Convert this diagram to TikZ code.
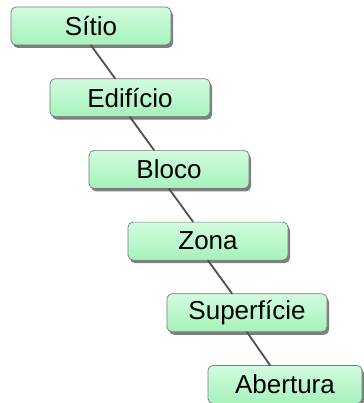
\documentclass[tikz,border=0pt]{standalone}
\usepackage{fontspec}
\setmainfont{Liberation Sans}
\usepackage{xcolor}
\usepackage{tikz}
\usetikzlibrary{positioning, shadows}
\definecolor{Level_Top}{RGB}{210,252,222}
\definecolor{Level_Bottom}{RGB}{166,242,188}
\definecolor{Level_Border}{RGB}{120,120,120}
\definecolor{Link_Gray}{RGB}{80,80,80}

\begin{document}
\begin{tikzpicture}[
    level/.style={rectangle, draw=Level_Border, line width=0.7pt,
                  top color=Level_Top, bottom color=Level_Bottom,
                  minimum width=160pt, minimum height=38pt, inner sep=0pt,
                  rounded corners=5pt, font=\fontsize{26}{29}\selectfont,
                  drop shadow={shadow xshift=2pt, shadow yshift=-3pt,
                               fill=black, opacity=0.5}},
    link/.style={line width=1.8pt, Link_Gray, line cap=round}
]
\useasboundingbox (0pt,0pt) rectangle (363pt,-403pt);

\node[level] (sitio) at (91pt,-26pt) {Sítio};

\node[level, below=33pt of sitio, xshift=39pt] (edificio) {Edifício};

\node[level, below=33pt of edificio, xshift=39pt] (bloco) {Bloco};

\node[level, below=33pt of bloco, xshift=39pt] (zona) {Zona};

\node[level, below=33pt of zona, xshift=39pt] (superficie) {Superfície};

\node[level, below=33pt of superficie, xshift=38pt, minimum width=154pt] (abertura) {Abertura};

\draw[link] (sitio.south) -- ([xshift=-15pt]edificio.north);
\draw[link] (edificio.south) -- ([xshift=-15pt]bloco.north);
\draw[link] (bloco.south) -- ([xshift=-15pt]zona.north);
\draw[link] (zona.south) -- ([xshift=-15pt]superficie.north);
\draw[link] (superficie.south) -- ([xshift=-15pt]abertura.north);

\end{tikzpicture}
\end{document}
